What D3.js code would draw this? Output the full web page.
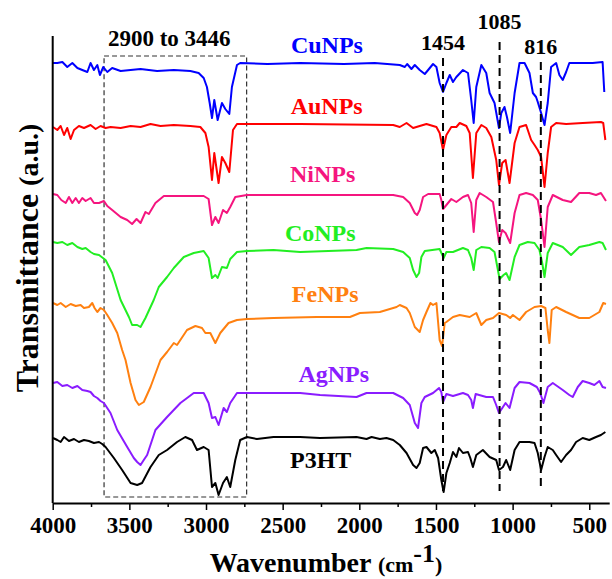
<!DOCTYPE html>
<html>
<head>
<meta charset="utf-8">
<script src="https://cdn.jsdelivr.net/npm/d3@7"></script>
<style>
  body { margin: 0; background: #fff; }
  text { font-family: "Liberation Serif", "Times New Roman", serif; font-weight: bold; }
</style>
</head>
<body>
<svg id="chart" width="612" height="579"></svg>
<script>
// Spectra: [wavenumber (cm-1), stacked transmittance (a.u.)]
const cuNPs = [[3998,442],[3970,442],[3937,443],[3905,438],[3872,442],[3839,437],[3807,435],[3774,433],[3753,442],[3731,435],[3709,440],[3692,430],[3670,438],[3644,433],[3612,437],[3557,434],[3492,435],[3427,436],[3319,434],[3210,435],[3102,434],[3048,432],[3015,427],[2994,418],[2976,402],[2961,387],[2946,405],[2924,385],[2896,402],[2874,396],[2848,391],[2831,418],[2798,440],[2777,442],[2600,441],[2386,442],[2100,441],[1900,442],[1736,440],[1703,438],[1688,441],[1660,436],[1638,440],[1606,435],[1573,431],[1551,435],[1519,441],[1497,438],[1476,422],[1454,413],[1432,422],[1410,430],[1389,423],[1367,428],[1324,435],[1291,432],[1270,405],[1254,382],[1237,418],[1204,440],[1172,432],[1150,412],[1118,402],[1089,377],[1074,392],[1053,398],[1037,388],[1016,372],[987,412],[955,442],[922,442],[890,432],[868,412],[847,408],[836,403],[814,392],[792,380],[771,402],[749,438],[716,442],[695,430],[673,425],[651,433],[630,442],[478,442],[413,443],[402,413]];
const auNPs = [[3998,378],[3970,375],[3948,379],[3926,370],[3905,377],[3883,366],[3861,375],[3829,379],[3796,377],[3753,380],[3720,376],[3688,379],[3655,377],[3623,378],[3557,377],[3492,379],[3427,378],[3362,381],[3297,379],[3210,380],[3102,379],[3037,378],[3004,372],[2983,358],[2961,325],[2946,352],[2918,322],[2896,348],[2874,342],[2848,333],[2824,375],[2798,381],[2386,381],[1779,380],[1736,378],[1692,382],[1649,377],[1606,379],[1562,381],[1497,378],[1476,372],[1454,355],[1432,370],[1400,378],[1367,378],[1345,382],[1302,379],[1280,372],[1259,327],[1237,372],[1204,380],[1172,377],[1139,368],[1107,345],[1089,320],[1068,342],[1046,345],[1020,322],[987,362],[955,378],[912,380],[879,365],[857,360],[836,355],[814,348],[792,318],[771,352],[749,378],[716,382],[651,381],[543,382],[424,383],[409,382],[395,365]];
const niNPs = [[3998,311],[3970,310],[3944,305],[3915,302],[3894,308],[3872,302],[3850,307],[3829,302],[3807,307],[3785,304],[3753,307],[3731,302],[3698,302],[3666,304],[3644,299],[3612,295],[3557,288],[3514,285],[3482,281],[3453,286],[3427,282],[3395,293],[3373,291],[3330,302],[3275,309],[3167,309],[3015,309],[2983,306],[2961,280],[2939,288],[2918,282],[2889,295],[2864,292],[2842,298],[2809,308],[2733,310],[2386,310],[1779,310],[1714,308],[1671,302],[1638,292],[1623,290],[1606,295],[1584,308],[1551,311],[1476,311],[1465,305],[1454,296],[1432,300],[1400,306],[1367,303],[1324,308],[1291,310],[1270,302],[1254,273],[1237,305],[1215,312],[1172,308],[1128,303],[1107,282],[1089,263],[1068,275],[1046,272],[1016,262],[987,292],[955,310],[912,312],[868,310],[836,305],[814,285],[792,258],[771,298],[738,310],[673,305],[619,303],[565,312],[500,312],[456,310],[424,312],[391,304]];
const coNPs = [[3998,263],[3970,262],[3937,263],[3905,260],[3872,262],[3839,258],[3807,256],[3785,257],[3753,253],[3731,251],[3698,250],[3655,245],[3612,232],[3557,205],[3503,188],[3482,180],[3449,180],[3427,178],[3395,187],[3341,205],[3308,218],[3254,228],[3210,237],[3145,248],[3080,252],[3015,254],[2983,247],[2961,227],[2939,230],[2924,227],[2896,238],[2864,237],[2842,246],[2798,253],[2733,254],[2560,255],[2386,253],[2018,255],[1953,257],[1779,256],[1714,253],[1671,247],[1649,235],[1627,228],[1610,232],[1595,248],[1573,254],[1476,256],[1450,247],[1432,253],[1389,253],[1324,257],[1291,255],[1270,247],[1254,235],[1237,255],[1204,258],[1150,257],[1118,253],[1096,235],[1085,226],[1059,230],[1042,232],[1020,225],[987,248],[955,260],[901,263],[857,262],[825,255],[807,242],[792,228],[771,252],[738,262],[673,258],[619,250],[565,258],[500,260],[434,263],[413,262],[391,255]];
const feNPs = [[3998,202],[3970,200],[3948,202],[3915,198],[3883,201],[3850,199],[3818,200],[3796,197],[3764,198],[3742,202],[3727,197],[3709,193],[3688,197],[3666,195],[3644,190],[3612,182],[3579,172],[3547,155],[3525,145],[3492,122],[3460,105],[3438,100],[3406,103],[3362,118],[3297,145],[3254,153],[3210,162],[3189,160],[3124,175],[3069,179],[3026,177],[3004,172],[2972,172],[2939,162],[2907,172],[2853,182],[2798,185],[2733,186],[2560,187],[2278,188],[2061,188],[1996,192],[1866,193],[1757,198],[1736,200],[1692,197],[1671,192],[1638,178],[1606,173],[1584,185],[1562,193],[1536,202],[1519,200],[1497,202],[1476,165],[1460,159],[1443,182],[1432,183],[1389,188],[1345,190],[1280,188],[1237,192],[1204,180],[1172,185],[1128,187],[1089,192],[1042,190],[1016,187],[998,190],[955,185],[912,193],[857,198],[814,199],[786,197],[771,175],[760,162],[745,195],[716,198],[651,193],[565,187],[500,187],[434,193],[409,202],[391,201]];
const agNPs = [[3998,122],[3970,123],[3937,119],[3905,120],[3872,117],[3839,119],[3807,115],[3774,114],[3753,113],[3731,109],[3709,107],[3688,104],[3666,102],[3623,92],[3579,75],[3514,58],[3471,47],[3449,43],[3427,40],[3406,45],[3384,50],[3330,75],[3254,88],[3167,102],[3080,112],[3015,112],[2983,102],[2961,87],[2939,88],[2918,80],[2885,97],[2864,93],[2842,102],[2798,112],[2733,112],[2560,112],[2386,112],[2256,110],[2018,108],[1953,112],[1779,112],[1714,107],[1671,100],[1638,82],[1617,77],[1595,102],[1573,108],[1519,112],[1480,117],[1465,113],[1454,103],[1432,111],[1389,109],[1324,112],[1291,110],[1270,105],[1259,97],[1241,111],[1172,108],[1128,108],[1107,100],[1089,92],[1063,98],[1046,102],[1020,97],[987,117],[955,123],[890,122],[842,118],[820,112],[799,102],[771,118],[738,122],[673,115],[630,110],[608,108],[575,118],[543,124],[500,122],[467,120],[434,124],[413,118],[391,117]];
const p3ht = [[3998,67],[3970,65],[3948,63],[3926,68],[3894,64],[3861,66],[3829,63],[3796,65],[3764,64],[3731,62],[3698,63],[3677,61],[3655,58],[3601,47],[3547,35],[3492,22],[3449,20],[3417,22],[3362,38],[3308,50],[3254,55],[3189,63],[3135,68],[3091,65],[3059,55],[3015,58],[2983,55],[2961,18],[2939,22],[2918,10],[2889,22],[2864,28],[2842,18],[2809,45],[2777,65],[2733,68],[2668,66],[2560,68],[2386,68],[2256,67],[2018,68],[1953,66],[1920,68],[1866,66],[1823,67],[1779,65],[1736,60],[1692,52],[1649,40],[1627,37],[1606,42],[1584,57],[1562,58],[1530,52],[1508,55],[1486,47],[1465,25],[1450,13],[1432,32],[1410,42],[1389,53],[1367,48],[1350,57],[1324,52],[1291,53],[1276,47],[1259,38],[1237,50],[1194,55],[1150,48],[1107,45],[1089,35],[1063,38],[1042,45],[1016,35],[987,55],[955,63],[890,63],[857,62],[836,52],[814,35],[792,48],[771,58],[738,55],[716,50],[684,43],[651,50],[619,55],[586,63],[543,67],[500,65],[456,68],[424,70],[395,73]];

const seriesNames = ["CuNPs", "AuNPs", "NiNPs", "CoNPs", "FeNPs", "AgNPs", "P3HT"];
const seriesColors = ["#0000ff", "#ff0000", "#f5157f", "#22ee22", "#ff8010", "#8a1cff", "#000000"];
const seriesData = [cuNPs, auNPs, niNPs, coNPs, feNPs, agNPs, p3ht];

const markedPeaks = [1454, 1085, 816];
const boxRange = [3665, 2735];        // dashed box, cm-1
const boxLabel = "2900 to 3446";
const xTicks = [4000, 3500, 3000, 2500, 2000, 1500, 1000, 500];
const xMinorTicks = [3750, 3250, 2750, 2250, 1750, 1250, 750];

const svg = d3.select("#chart");
const x = d3.scaleLinear().domain([4000, 370]).range([52.7, 609.2]);
const y = d3.scaleLinear().domain([0, 475]).range([505, 30]);
const axisY = 503;

// dashed region box
svg.append("rect")
   .attr("x", x(boxRange[0]))
   .attr("y", y(449))
   .attr("width", x(boxRange[1]) - x(boxRange[0]))
   .attr("height", y(8) - y(449))
   .attr("fill", "none")
   .attr("stroke", "#333")
   .attr("stroke-width", 1.2)
   .attr("stroke-dasharray", "5,3");

svg.append("text")
   .attr("x", x((boxRange[0] + boxRange[1]) / 2 + 40))
   .attr("y", y(459))
   .attr("text-anchor", "middle")
   .style("font-size", "23px")
   .text(boxLabel);

// spectra
const line = d3.line()
   .x((d) => x(d[0]))
   .y((d) => y(d[1]));

seriesData.forEach((data, i) => {
   svg.append("path")
      .datum(data)
      .attr("fill", "none")
      .attr("stroke", seriesColors[i])
      .attr("stroke-width", 2)
      .attr("stroke-linejoin", "round")
      .attr("d", line);
});

// series labels
const labelAt = [[2446, 452], [2448, 391], [2452, 323], [2485, 264], [2440, 203], [2397, 123], [2452, 37]];
seriesNames.forEach((name, i) => {
   svg.append("text")
      .attr("x", x(labelAt[i][0]))
      .attr("y", y(labelAt[i][1]))
      .attr("fill", seriesColors[i])
      .style("font-size", "24px")
      .text(name);
});

// marked peak lines
const peakTop = [447, 463, 443];
const peakLabelY = [455, 476, 451];
markedPeaks.forEach((p, i) => {
   svg.append("line")
      .attr("x1", x(p)).attr("x2", x(p))
      .attr("y1", y(peakTop[i])).attr("y2", y(14))
      .attr("stroke", "#000")
      .attr("stroke-width", 2)
      .attr("stroke-dasharray", "8,5");
   svg.append("text")
      .attr("x", x(p))
      .attr("y", y(peakLabelY[i]))
      .attr("text-anchor", "middle")
      .style("font-size", "22px")
      .text(p);
});

// axes
const gx = svg.append("g")
   .attr("transform", `translate(0,${axisY})`)
   .call(d3.axisBottom(x).tickValues(xTicks).tickSize(7).tickSizeOuter(0).tickPadding(7).tickFormat(d3.format("d")));
gx.select(".domain").attr("stroke-width", 2);
gx.selectAll(".tick line").attr("stroke-width", 1.5);
gx.selectAll("text")
   .style("font-size", "23px")
   .style("font-family", '"Liberation Serif", serif')
   .style("font-weight", "bold")
   .attr("fill", "#000");

svg.append("g")
   .attr("transform", `translate(0,${axisY})`)
   .call(d3.axisBottom(x).tickValues(xMinorTicks).tickSize(4).tickSizeOuter(0).tickFormat(""))
   .call((g) => g.select(".domain").remove())
   .selectAll(".tick line").attr("stroke-width", 1.5);

svg.append("line")
   .attr("x1", x(4000)).attr("x2", x(4000))
   .attr("y1", 36).attr("y2", axisY)
   .attr("stroke", "#000")
   .attr("stroke-width", 2);

// axis titles
const xTitle = svg.append("text")
   .attr("x", 326)
   .attr("y", 572)
   .attr("text-anchor", "middle");
xTitle.append("tspan").style("font-size", "28px").text("Wavenumber ");
xTitle.append("tspan").style("font-size", "22px").text("(cm");
xTitle.append("tspan").style("font-size", "26px").attr("dy", -10).text("-1");
xTitle.append("tspan").style("font-size", "22px").attr("dy", 10).text(")");

const yTitle = svg.append("text")
   .attr("transform", "translate(38,258) rotate(-90)")
   .attr("text-anchor", "middle");
yTitle.append("tspan").style("font-size", "32px").text("Transmittance ");
yTitle.append("tspan").style("font-size", "28px").text("(a.u.)");
</script>
</body>
</html>
